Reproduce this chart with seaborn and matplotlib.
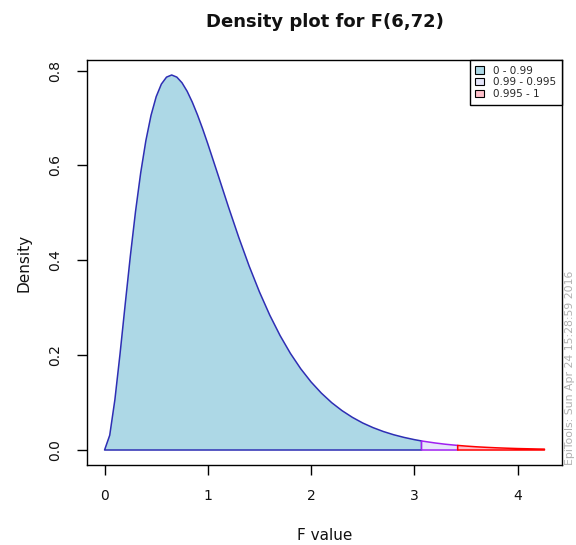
import numpy as np
import pandas as pd
import matplotlib
matplotlib.use("Agg")
from matplotlib import pyplot as plt
from matplotlib.patches import Patch
import seaborn as sns

# F(6,72) density, values
f_values = [0.0, 0.05, 0.1, 0.15, 0.2, 0.25, 0.3, 0.35, 0.4, 0.45, 0.5, 0.55, 0.6, 0.65,
            0.7, 0.75, 0.8, 0.85, 0.9, 0.95, 1.0, 1.1, 1.2, 1.3, 1.4, 1.5, 1.6, 1.7, 1.8,
            1.9, 2.0, 2.1, 2.2, 2.3, 2.4, 2.5, 2.6, 2.7, 2.8, 2.9, 3.0, 3.07, 3.1, 3.2,
            3.3, 3.4, 3.42, 3.5, 3.6, 3.7, 3.8, 3.9, 4.0, 4.1, 4.2, 4.26]
density = [0.0, 0.0311, 0.1060, 0.2030, 0.3075, 0.4096, 0.5031, 0.5846, 0.6523, 0.7057,
           0.7451, 0.7716, 0.7863, 0.7908, 0.7863, 0.7744, 0.7564, 0.7334, 0.7067, 0.6772,
           0.6456, 0.5794, 0.5125, 0.4482, 0.3881, 0.3334, 0.2844, 0.2413, 0.2037, 0.1713,
           0.1435, 0.1199, 0.0998, 0.0830, 0.0689, 0.0570, 0.0472, 0.0390, 0.0322, 0.0266,
           0.0219, 0.0191, 0.0181, 0.0149, 0.0122, 0.0101, 0.0097, 0.0083, 0.0068, 0.0056,
           0.0046, 0.0038, 0.0031, 0.0026, 0.0021, 0.0019]

# quantile bands
band_labels = ["0 - 0.99", "0.99 - 0.995", "0.995 - 1"]
band_edges = [0.0, 3.07, 3.42, 4.26]
band_fill = ["#add8e6", "#e6e6fa", "#ffc0cb"]
band_line = ["#2e2eb4", "#a020f0", "#ff0000"]

df = pd.DataFrame({"F": f_values, "Density": density})

sns.set_style("ticks")
plt.rcParams["font.family"] = ["DejaVu Sans"]

fig = plt.figure(figsize=(5.76, 5.45), dpi=100)
ax = fig.add_axes([87 / 576, 1 - 465 / 545, 475 / 576, 405 / 545])

for i in range(len(band_labels)):
    lo, hi = band_edges[i], band_edges[i + 1]
    seg = df[(df["F"] >= lo - 1e-9) & (df["F"] <= hi + 1e-9)]
    xs = np.concatenate([seg["F"].values, [seg["F"].values[-1], seg["F"].values[0]]])
    ys = np.concatenate([seg["Density"].values, [0.0, 0.0]])
    ax.fill(xs, ys, facecolor=band_fill[i], edgecolor=band_line[i], linewidth=1.1,
            joinstyle="round", zorder=2 + i)

ax.set_xlim(-0.17, 4.43)
ax.set_ylim(-0.0316, 0.8224)
ax.set_xticks([0, 1, 2, 3, 4])
ax.set_yticks([0.0, 0.2, 0.4, 0.6, 0.8])
ax.set_yticklabels(["0.0", "0.2", "0.4", "0.6", "0.8"])
ax.tick_params(axis="both", direction="out", length=7, width=1, color="black",
               labelsize=10, labelcolor="#111111")
ax.tick_params(axis="x", pad=10)
ax.tick_params(axis="y", pad=11)
for lab in ax.get_yticklabels():
    lab.set_rotation(90)
    lab.set_va("center")
for sp in ax.spines.values():
    sp.set_visible(True)
    sp.set_color("black")
    sp.set_linewidth(1)

ax.set_xlabel("F value", fontsize=11, color="#111111", labelpad=18)
ax.set_ylabel("Density", fontsize=11, color="#111111", labelpad=12)
ax.set_title("Density plot for F(6,72)", fontsize=13, fontweight="bold", color="#111111", pad=24)

handles = [Patch(facecolor=c, edgecolor="black", linewidth=0.8) for c in band_fill]
leg = ax.legend(handles, band_labels, loc="upper right", fontsize=7.5, frameon=True,
                fancybox=False, edgecolor="black", framealpha=1, borderaxespad=0,
                handlelength=0.8, handleheight=0.7, handletextpad=0.9,
                labelspacing=0.15, borderpad=0.55)
leg.get_frame().set_linewidth(1)

fig.text(570 / 576, 1 - 465 / 545, "EpiTools: Sun Apr 24 15:28:59 2016", rotation=90,
         ha="center", va="bottom", fontsize=7.8, color="#b0b0b0")

fig.savefig("out.png", dpi=100)
